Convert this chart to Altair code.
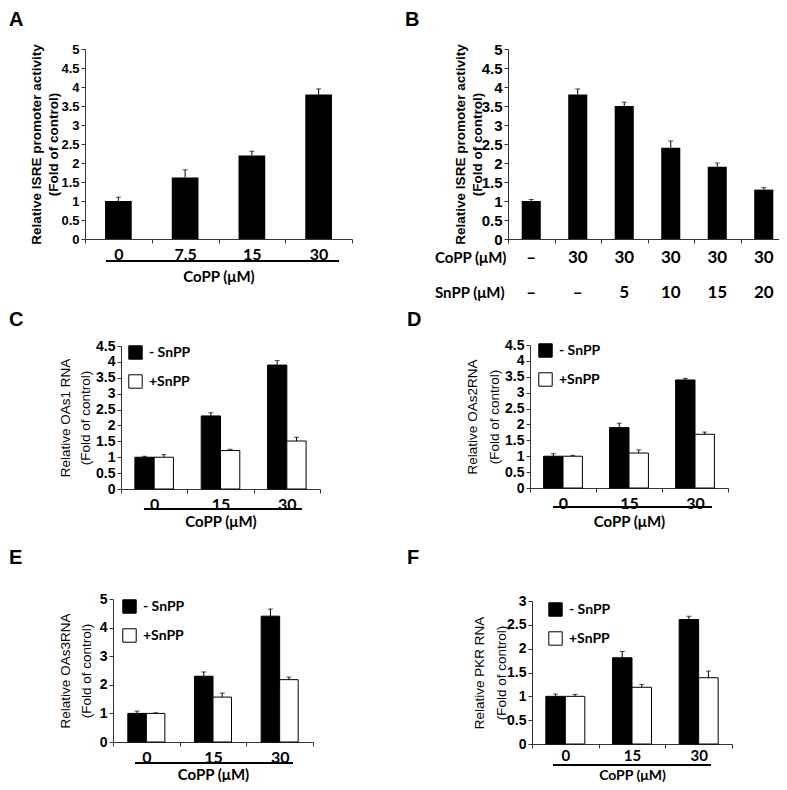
import altair as alt
import pandas as pd

# ---------------- data ----------------
a_doses = ["0", "7.5", "15", "30"]
a_values = [1.0, 1.62, 2.2, 3.8]
a_errors = [0.1, 0.2, 0.11, 0.15]

b_lanes = ["L1", "L2", "L3", "L4", "L5", "L6"]
b_copp = ["–", "30", "30", "30", "30", "30"]
b_snpp = ["–", "–", "5", "10", "15", "20"]
b_values = [1.0, 3.8, 3.5, 2.4, 1.9, 1.3]
b_errors = [0.04, 0.15, 0.1, 0.18, 0.1, 0.05]

doses = ["0", "15", "30"]
groups = ["- SnPP", "+SnPP"]

c_minus = [1.0, 2.3, 3.9]
c_minus_err = [0.03, 0.1, 0.14]
c_plus = [1.0, 1.21, 1.51]
c_plus_err = [0.08, 0.04, 0.12]

d_minus = [1.0, 1.9, 3.4]
d_minus_err = [0.08, 0.14, 0.05]
d_plus = [1.0, 1.1, 1.69]
d_plus_err = [0.03, 0.1, 0.07]

e_minus = [1.0, 2.3, 4.4]
e_minus_err = [0.08, 0.15, 0.25]
e_plus = [1.0, 1.57, 2.18]
e_plus_err = [0.02, 0.14, 0.09]

f_minus = [1.0, 1.81, 2.61]
f_minus_err = [0.05, 0.13, 0.07]
f_plus = [1.0, 1.19, 1.39]
f_plus_err = [0.04, 0.06, 0.14]

ticks_half_5 = [0, 0.5, 1, 1.5, 2, 2.5, 3, 3.5, 4, 4.5, 5]
ticks_half_45 = [0, 0.5, 1, 1.5, 2, 2.5, 3, 3.5, 4, 4.5]
ticks_one_5 = [0, 1, 2, 3, 4, 5]
ticks_half_3 = [0, 0.5, 1, 1.5, 2, 2.5, 3]

title_isre = ["Relative ISRE promoter activity", "(Fold of control)"]
title_c = ["Relative OAs1 RNA", "(Fold of control)"]
title_d = ["Relative OAs2RNA", "(Fold of control)"]
title_e = ["Relative OAs3RNA", "(Fold of control)"]
title_f = ["Relative PKR RNA", "(Fold of control)"]
copp_title = "CoPP  (μM)"

# ---------------- styling / layout ----------------
W, H = 771, 774
AXIS_COLOR = "#333333"
TICK_FONT = "Liberation Sans"
CAL_FONT = "Lato"


def yaxis(x0, values, title, title_x, label_size, title_size, title_weight, title_lh):
    return alt.Axis(
        orient="left", offset=-x0, values=values, format="~g",
        title=title, titleX=title_x, titleFont=TICK_FONT, titleFontSize=title_size,
        titleFontWeight=title_weight, titleLineHeight=title_lh, titleColor="black",
        labelFont=TICK_FONT, labelFontSize=label_size, labelFontWeight="bold",
        labelColor="black", labelPadding=2, tickSize=4, tickWidth=1,
        domainColor=AXIS_COLOR, tickColor=AXIS_COLOR, grid=False,
    )


def xaxis(y0, title_y, show_labels=True, title_size=15, label_size=16, label_pad=3):
    kw = dict(
        orient="bottom", offset=y0 - H, tickBand="extent", labelAngle=0,
        labels=show_labels, tickSize=4, tickWidth=1,
        domainColor=AXIS_COLOR, tickColor=AXIS_COLOR, grid=False,
    )
    if show_labels:
        kw.update(
            labelFont=CAL_FONT, labelFontWeight="bold", labelFontSize=label_size,
            labelColor="black", labelPadding=label_pad,
            title=copp_title, titleFont=CAL_FONT, titleFontWeight="bold",
            titleFontSize=title_size, titleColor="black", titleBaseline="middle",
            titleY=title_y,
        )
    else:
        kw.update(title=None)
    return alt.Axis(**kw)


def annotations(letter, lx, ly, line=None):
    layers = [
        alt.Chart(pd.DataFrame({"t": [letter]})).mark_text(
            font=TICK_FONT, fontWeight="bold", fontSize=20, align="left",
            baseline="top", color="black",
        ).encode(text="t:N", x=alt.value(lx), y=alt.value(ly))
    ]
    if line is not None:
        lx1, lx2, ly1 = line
        layers.append(
            alt.Chart(pd.DataFrame({"k": [1]})).mark_rule(color="black", strokeWidth=2)
            .encode(x=alt.value(lx1), x2=alt.value(lx2), y=alt.value(ly1))
        )
    return layers


def single_panel(cats, values, errors, geo, xax, yax, band, extra=()):
    df = pd.DataFrame({"cat": cats, "val": values, "err": errors})
    df["hi"] = df["val"] + df["err"]
    xs = alt.Scale(domain=cats, range=[geo["x0"], geo["x1"]], paddingInner=0, paddingOuter=0)
    ys = alt.Scale(domain=[0, geo["ymax"]], range=[geo["y0"], geo["y1"]], nice=False)
    X = alt.X("cat:N", scale=xs, axis=xax)
    base = alt.Chart(df)
    bars = base.mark_bar(color="black", width=alt.RelativeBandSize(band)).encode(
        x=X, y=alt.Y("val:Q", scale=ys, axis=yax))
    err = base.mark_rule(color="black", strokeWidth=1).encode(
        x=X, y=alt.Y("val:Q", scale=ys, axis=yax), y2="hi:Q")
    cap = base.mark_tick(color="black", orient="horizontal", size=5, thickness=1).encode(
        x=X, y=alt.Y("hi:Q", scale=ys, axis=yax))
    return alt.layer(bars, err, cap, *extra)


def grouped_panel(minus, minus_err, plus, plus_err, geo, xax, yax, pad_outer, legend_xy):
    df = pd.DataFrame({
        "dose": doses + doses,
        "grp": [groups[0]] * len(doses) + [groups[1]] * len(doses),
        "val": minus + plus,
        "err": minus_err + plus_err,
    })
    df["hi"] = df["val"] + df["err"]
    xs = alt.Scale(domain=doses, range=[geo["x0"], geo["x1"]], paddingInner=0, paddingOuter=0)
    ys = alt.Scale(domain=[0, geo["ymax"]], range=[geo["y0"], geo["y1"]], nice=False)
    os_ = alt.Scale(domain=groups, paddingInner=0, paddingOuter=pad_outer)
    X = alt.X("dose:N", scale=xs, axis=xax)
    XO = alt.XOffset("grp:N", scale=os_)
    base = alt.Chart(df)
    bars = base.mark_bar(stroke="black", strokeWidth=1).encode(
        x=X, xOffset=XO, y=alt.Y("val:Q", scale=ys, axis=yax),
        fill=alt.Fill(
            "grp:N",
            scale=alt.Scale(domain=groups, range=["black", "white"]),
            legend=alt.Legend(
                orient="none", legendX=legend_xy[0], legendY=legend_xy[1], title=None,
                symbolType="square", symbolSize=180, symbolStrokeColor="black",
                symbolStrokeWidth=1, labelFont=CAL_FONT, labelFontWeight="bold",
                labelFontSize=14, labelColor="black", labelOffset=6, rowPadding=10,
                padding=0,
            ),
        ),
    )
    err = base.mark_rule(color="black", strokeWidth=1).encode(
        x=X, xOffset=XO, y=alt.Y("val:Q", scale=ys, axis=yax), y2="hi:Q")
    cap = base.mark_tick(color="black", orient="horizontal", size=5, thickness=1).encode(
        x=X, xOffset=XO, y=alt.Y("hi:Q", scale=ys, axis=yax))
    return alt.layer(bars, err, cap)


# ---------------- panel A ----------------
geoA = dict(x0=77, x1=344, y0=231, y1=41, ymax=5)
panelA = alt.layer(
    single_panel(
        a_doses, a_values, a_errors, geoA,
        xaxis(geoA["y0"], 37),
        yaxis(geoA["x0"], ticks_half_5, title_isre, -42, 13, 13.5, "bold", 17),
        0.4,
    ),
    *annotations("A", 1, 2, (98, 331, 253)),
)

# ---------------- panel B ----------------
geoB = dict(x0=500, x1=779, y0=231, y1=41, ymax=5)
b_rows = pd.DataFrame({"cat": b_lanes, "copp": b_copp, "snpp": b_snpp})
b_xscale = alt.Scale(domain=b_lanes, range=[geoB["x0"], geoB["x1"]], paddingInner=0, paddingOuter=0)
b_xax = xaxis(geoB["y0"], 0, show_labels=False)
b_text_copp = alt.Chart(b_rows).mark_text(
    font=CAL_FONT, fontWeight="bold", fontSize=17, color="black", baseline="middle"
).encode(x=alt.X("cat:N", scale=b_xscale, axis=b_xax), y=alt.value(250), text="copp:N")
b_text_snpp = alt.Chart(b_rows).mark_text(
    font=CAL_FONT, fontWeight="bold", fontSize=17, color="black", baseline="middle"
).encode(x=alt.X("cat:N", scale=b_xscale, axis=b_xax), y=alt.value(285), text="snpp:N")
b_row_labels = alt.Chart(pd.DataFrame({"lab": ["CoPP (μM)", "SnPP (μM)"], "yy": [250, 285]})).mark_text(
    font=CAL_FONT, fontWeight="bold", fontSize=15, color="black", align="left", baseline="middle"
).encode(x=alt.value(427), y=alt.Y("yy:Q", scale=None), text="lab:N")

panelB = alt.layer(
    single_panel(
        b_lanes, b_values, b_errors, geoB, b_xax,
        yaxis(geoB["x0"], ticks_half_5, title_isre, -41, 15, 13.5, "bold", 17),
        0.41, extra=(b_text_copp, b_text_snpp),
    ),
    b_row_labels,
    *annotations("B", 397, 2),
)

# ---------------- panels C-F ----------------
geoC = dict(x0=113, x1=312, y0=481, y1=338, ymax=4.5)
panelC = alt.layer(
    grouped_panel(
        c_minus, c_minus_err, c_plus, c_plus_err, geoC,
        xaxis(geoC["y0"], 32),
        yaxis(geoC["x0"], ticks_half_45, title_c, -49, 14, 13.5, "normal", 20),
        0.72, (120, 337),
    ),
    *annotations("C", 1, 302, (136, 294, 501)),
)

geoD = dict(x0=522, x1=720, y0=480, y1=337, ymax=4.5)
panelD = alt.layer(
    grouped_panel(
        d_minus, d_minus_err, d_plus, d_plus_err, geoD,
        xaxis(geoD["y0"], 33),
        yaxis(geoD["x0"], ticks_half_45, title_d, -51, 14, 13.5, "normal", 22),
        0.7, (530, 335),
    ),
    *annotations("D", 399, 302, (545, 704, 499)),
)

geoE = dict(x0=105, x1=305, y0=734, y1=591, ymax=5)
panelE = alt.layer(
    grouped_panel(
        e_minus, e_minus_err, e_plus, e_plus_err, geoE,
        xaxis(geoE["y0"], 32),
        yaxis(geoE["x0"], ticks_one_5, title_e, -41, 14, 13.5, "normal", 21),
        0.8, (114, 591),
    ),
    *annotations("E", 1, 540, (127, 285, 755)),
)

geoF = dict(x0=524, x1=724, y0=736, y1=593, ymax=3)
panelF = alt.layer(
    grouped_panel(
        f_minus, f_minus_err, f_plus, f_plus_err, geoF,
        xaxis(geoF["y0"], 31, title_size=14, label_size=15, label_pad=0),
        yaxis(geoF["x0"], ticks_half_3, title_f, -46, 14, 13.5, "normal", 22),
        0.71, (540, 594),
    ),
    *annotations("F", 399, 540, (545, 703, 757)),
)

chart = (
    alt.layer(panelA, panelB, panelC, panelD, panelE, panelF)
    .resolve_scale(x="independent", y="independent", xOffset="independent", fill="independent")
    .resolve_axis(x="independent", y="independent")
    .resolve_legend(fill="independent")
    .properties(width=W, height=H, autosize=alt.AutoSizeParams(type="none"), padding=0,
                background="white")
    .configure_view(strokeWidth=0)
)

chart.save("out.html", embed_options={"renderer": "svg", "actions": False})
